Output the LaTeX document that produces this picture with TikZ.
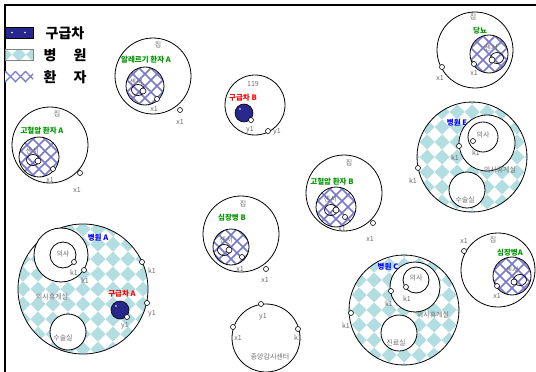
\documentclass[tikz,border=0pt]{standalone}
\usepackage{fontspec}
\setmainfont{Noto Sans CJK KR}
\definecolor{txtgray}{RGB}{110,110,110}
\definecolor{labgreen}{RGB}{0,150,0}
\definecolor{hatchblue}{RGB}{120,120,205}
\definecolor{hospcyan}{RGB}{178,222,226}
\definecolor{ambnavy}{RGB}{40,40,140}
\tikzset{
  frameline/.style={line width=1.8pt},
  ring/.style={draw=black, line width=0.8pt},
  port/.style={circle, draw=black, fill=white, line width=0.6pt, inner sep=0pt, minimum size=5pt},
  small/.style={text=txtgray, font=\fontsize{7}{8}\selectfont, inner sep=0pt},
  plab/.style={text=labgreen, font=\bfseries\fontsize{7.5}{8}\selectfont, inner sep=0pt},
  hlab/.style={text=blue, font=\bfseries\fontsize{7.5}{8}\selectfont, inner sep=0pt},
  alab/.style={text=red, font=\bfseries\fontsize{7.5}{8}\selectfont, inner sep=0pt},
  legtext/.style={text=black, font=\bfseries\fontsize{14}{16}\selectfont, inner sep=0pt},
  hatchline/.style={draw=hatchblue, line width=1.6pt},
}
\newcommand\pathatch[3]{%
  \begin{scope}
    \clip (#1,#2) circle[radius=#3pt];
    \fill[white] (#1,#2) circle[radius=#3pt];
    \foreach \k in {-5,...,5}{
      \draw[hatchline, shift={(#1,#2)}] (\k*12-40,-40) -- (\k*12+40,40);
      \draw[hatchline, shift={(#1,#2)}] (\k*12+40,-40) -- (\k*12-40,40);
    }
  \end{scope}
  \draw[ring] (#1,#2) circle[radius=#3pt];
}
\newcommand\hospfill[3]{%
  \begin{scope}
    \clip (#1,#2) circle[radius=#3pt];
    \fill[white] (#1,#2) circle[radius=#3pt];
    \foreach \i in {-5,...,5}{
      \foreach \j in {-5,...,5}{
        \fill[hospcyan, shift={(#1+\i*15,#2+\j*15)}] (-7.5,0) -- (0,-7.5) -- (7.5,0) -- (0,7.5) -- cycle;
      }
    }
  \end{scope}
  \draw[ring] (#1,#2) circle[radius=#3pt];
}
\newcommand\ambball[2]{%
  \fill[ambnavy] (#1,#2) circle[radius=9pt];
  \draw[black, line width=0.6pt] (#1,#2) circle[radius=9pt];
  \fill[white] (#1-4,#2-4) circle[radius=0.9pt];
}
\newcommand\sensor[2]{%
  \draw[black, line width=0.7pt] (#1,#2) ellipse[x radius=6.5pt, y radius=5.5pt];
}
\begin{document}
\begin{tikzpicture}[x=1pt,y=-1pt]
\useasboundingbox (0,0) rectangle (536,372);
\fill[white] (0,0) rectangle (536,372);
% frame
\draw[frameline] (5,380) -- (5,5) -- (545,5);

% legend
\fill[ambnavy] (5,27) rectangle (33,38);
\draw[black, line width=0.5pt] (5,27) rectangle (33,38);
\fill[white] (12,32.5) circle[radius=0.8pt];
\fill[white] (25,32.5) circle[radius=0.8pt];
\node[legtext] (lg1) at (65,33) {구급차};
\begin{scope}
  \clip (5,49) rectangle (33,60);
  \fill[white] (5,49) rectangle (33,60);
  \foreach \i in {0,...,3}{
    \fill[hospcyan, shift={(5+\i*14,54.5)}] (-7,0) -- (0,-7) -- (7,0) -- (0,7) -- cycle;
  }
\end{scope}
\draw[gray, line width=0.5pt] (5,49) rectangle (33,60);
\node[legtext] (lg2a) at (50,55) {병};
\node[legtext] (lg2b) at (80,55) {원};
\begin{scope}
  \clip (5,71) rectangle (33,82);
  \fill[white] (5,71) rectangle (33,82);
  \foreach \k in {0,...,4}{
    \draw[hatchline, line width=1.2pt] (\k*10-5,71) -- (\k*10+6,82);
    \draw[hatchline, line width=1.2pt] (\k*10+6,71) -- (\k*10-5,82);
  }
\end{scope}
\node[legtext] (lg3a) at (50,77) {환};
\node[legtext] (lg3b) at (80,77) {자};

% House: allergy A
\draw[ring] (153,76) circle[radius=38pt];
\node[small] (h1) at (158,45) {집};
\node[plab] (p1) at (146,60) {알레르기 환자 A};
\pathatch{145}{86}{19}
\node[small] (s1) at (136,82) {센서};
\sensor{138}{90}
\node[port, minimum size=6pt] (s1p) at (143,91) {};
\node[port] (p1x) at (157,99) {};
\node[small] (p1xl) at (154,109) {x1};
\node[port] (h1x) at (180,110) {};
\node[small] (h1xl) at (180,122) {x1};

% 119
\draw[ring] (255,105) circle[radius=30pt];
\node[small] (c119) at (253,84) {119};
\node[alab] (ambB) at (243,98) {구급차 B};
\ambball{244}{113}
\node[port] (ambBp) at (251,120) {};
\node[small] (ambBpl) at (250,130) {y1};
\node[port] (c119p) at (268,131) {};
\node[small] (c119pl) at (277,132) {y1};

% House: hypertension A
\draw[ring] (50,145) circle[radius=38pt];
\node[small] (h2) at (57,114) {집};
\node[plab] (p2) at (42,131) {고혈압 환자 A};
\pathatch{39}{157}{20}
\node[small] (s2) at (32,151) {센서};
\sensor{33}{160}
\node[port, minimum size=6pt] (s2p) at (38,161) {};
\node[port] (p2x) at (53,169) {};
\node[small] (p2xl) at (50,180) {x1};
\node[port] (h2x) at (80,173) {};
\node[small] (h2xl) at (77,190) {x1};

% House: diabetes
\draw[ring] (475,50) circle[radius=38pt];
\node[small] (h3) at (473,17) {집};
\node[plab] (p3) at (480,31) {당뇨};
\pathatch{489}{54}{19}
\node[small] (s3) at (491,48) {센서};
\sensor{497}{58}
\node[port, minimum size=6pt] (s3p) at (492,60) {};
\node[port] (p3x) at (474,64) {};
\node[small] (p3xl) at (474,73) {x1};
\node[port] (h3x) at (442,67) {};
\node[small] (h3xl) at (440,78) {x1};

% Hospital E
\hospfill{472}{157}{55}
\node[hlab] (hE) at (457,123) {병원 E};
\draw[ring, fill=white] (487,143) circle[radius=28pt];
\draw[ring] (483,137) circle[radius=15pt];
\node[small] (dE) at (483,135) {의사};
\node[port] (dEp) at (473,141) {};
\node[small] (dEpl) at (476,153) {k1};
\node[port] (rE) at (459,146) {};
\node[small] (rEpl) at (455,158) {k1};
\node[small] (rEl) at (500,170) {의사휴게실};
\draw[ring, fill=white] (467,190) circle[radius=18pt];
\node[small] (oE) at (465,200) {수술실};
\node[port] (hEp) at (418,168) {};
\node[small] (hEpl) at (413,181) {k1};

% House: hypertension B
\draw[ring] (344,193) circle[radius=38pt];
\node[small] (h4) at (349,163) {집};
\node[plab] (p4) at (332,182) {고혈압 환자 B};
\pathatch{336}{207}{20}
\node[small] (s4) at (330,199) {센서};
\sensor{331}{210}
\node[port, minimum size=6pt] (s4p) at (336,210) {};
\node[port] (p4x) at (345,217) {};
\node[small] (p4xl) at (342,229) {x1};
\node[port] (h4x) at (373,223) {};
\node[small] (h4xl) at (370,239) {x1};

% House: heart disease B
\draw[ring] (241,234) circle[radius=38pt];
\node[small] (h5) at (243,204) {집};
\node[plab] (p5) at (232,218) {심장병 B};
\pathatch{231}{247}{18}
\node[small] (s5) at (226,240) {센서};
\sensor{224}{250}
\node[port, minimum size=6pt] (s5p) at (229,250) {};
\node[port] (p5x) at (242,257) {};
\node[small] (p5xl) at (240,269) {x1};
\node[port] (h5x) at (266,269) {};
\node[small] (h5xl) at (265,280) {x1};

% Hospital A
\hospfill{83}{289}{65}
\node[hlab] (hA) at (98,238) {병원 A};
\draw[ring, fill=white] (61,255) circle[radius=27pt];
\draw[ring] (63,255) circle[radius=13pt];
\node[small] (dA) at (63,254) {의사};
\node[port] (dAp) at (74,262) {};
\node[small] (dApl) at (74,273) {k1};
\node[port] (rAp) at (84,270) {};
\node[small] (rApl) at (85,281) {k1};
\node[small] (rAl) at (52,297) {의사휴게실};
\draw[ring, fill=white] (68,332) circle[radius=18pt];
\node[small] (oA) at (63,338) {수술실};
\node[alab] (ambA) at (122,294) {구급차 A};
\ambball{120}{310}
\node[port] (ambAp) at (127,317) {};
\node[small] (ambApl) at (125,326) {y1};
\node[port] (hAk) at (142,262) {};
\node[small] (hAkl) at (152,271) {k1};
\node[port] (hAy) at (147,303) {};
\node[small] (hAyl) at (152,314) {y1};

% Hospital C
\hospfill{404}{310}{55}
\node[hlab] (hC) at (388,267) {병원 C};
\draw[ring, fill=white] (415,287) circle[radius=25pt];
\draw[ring] (416,280) circle[radius=13pt];
\node[small] (dC) at (416,278) {의사};
\node[port] (dCp) at (406,287) {};
\node[small] (dCpl) at (407,299) {k1};
\node[port] (rCp) at (391,291) {};
\node[small] (rCpl) at (389,304) {k1};
\node[small] (rCl) at (433,315) {의사휴게실};
\draw[ring, fill=white] (399,333) circle[radius=18pt];
\node[small] (xC) at (396,343) {진료실};
\node[port] (hCp) at (351,313) {};
\node[small] (hCpl) at (346,326) {k1};

% House: heart disease A
\draw[ring] (498,270) circle[radius=37pt];
\node[small] (h6) at (493,240) {집};
\node[plab] (p6) at (510,253) {심장병A};
\pathatch{512}{276}{19}
\node[small] (s6) at (512,270) {센서};
\sensor{520}{280}
\node[port, minimum size=6pt] (s6p) at (514,282) {};
\node[port] (p6x) at (497,286) {};
\node[small] (p6xl) at (497,296) {x1};
\node[port] (h6x) at (464,251) {};
\node[small] (h6xl) at (464,241) {x1};

% Central monitoring center
\draw[ring] (266,338) circle[radius=34pt];
\node[port] (cy) at (261,304) {};
\node[small] (cyl) at (263,317) {y1};
\node[port] (cx) at (233,327) {};
\node[small] (cxl) at (238,338) {x1};
\node[port] (ck) at (298,329) {};
\node[small] (ckl) at (298,338) {k1};
\node[small] (cl) at (270,357) {중앙감시센터};
\end{tikzpicture}
\end{document}
